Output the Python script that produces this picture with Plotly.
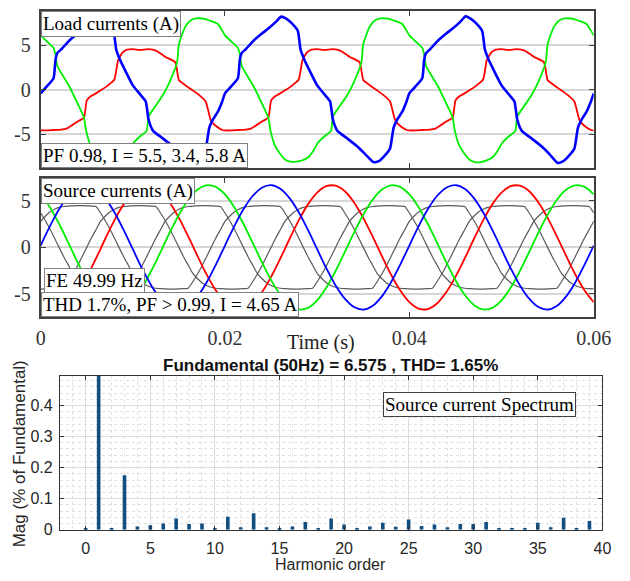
import plotly.graph_objects as go

# ---------------- Load currents (A) ----------------
BLUE_LOAD_T = [
    0.0000, 0.0006, 0.0014, 0.0016, 0.0018, 0.0023, 0.0030, 0.0040, 0.0048, 0.0056, 0.0061, 0.0066, 0.0072, 0.0079, 0.0082, 0.0086, 0.0093,
    0.0100, 0.0107, 0.0114, 0.0117, 0.0122, 0.0132, 0.0143, 0.0152, 0.0161, 0.0167, 0.0173, 0.0179, 0.0183, 0.0187, 0.0192, 0.0197,
    0.0200, 0.0206, 0.0214, 0.0216, 0.0218, 0.0223, 0.0230, 0.0240, 0.0248, 0.0256, 0.0261, 0.0266, 0.0272, 0.0279, 0.0282, 0.0286, 0.0293,
    0.0300, 0.0307, 0.0314, 0.0317, 0.0322, 0.0332, 0.0343, 0.0352, 0.0361, 0.0367, 0.0373, 0.0379, 0.0383, 0.0387, 0.0392, 0.0397,
    0.0400, 0.0406, 0.0414, 0.0416, 0.0418, 0.0423, 0.0430, 0.0440, 0.0448, 0.0456, 0.0461, 0.0466, 0.0472, 0.0479, 0.0482, 0.0486, 0.0493,
    0.0500, 0.0507, 0.0514, 0.0517, 0.0522, 0.0532, 0.0543, 0.0552, 0.0561, 0.0567, 0.0573, 0.0579, 0.0583, 0.0587, 0.0592, 0.0597,
    0.0600]
BLUE_LOAD_V = [
    -0.4, 0.3, 1.3, 3.3, 4.1, 4.6, 5.4, 6.3, 6.95, 7.7, 8.2, 8.0, 7.5, 6.6, 4.5, 3.4, 1.9,
    0.5, -0.4, -1.3, -3.3, -4.6, -5.4, -6.3, -7.2, -8.15, -8.0, -7.4, -6.6, -4.2, -3.3, -2.5, -1.3,
    -0.4, 0.3, 1.3, 3.3, 4.1, 4.6, 5.4, 6.3, 6.95, 7.7, 8.2, 8.0, 7.5, 6.6, 4.5, 3.4, 1.9,
    0.5, -0.4, -1.3, -3.3, -4.6, -5.4, -6.3, -7.2, -8.1, -8.0, -7.4, -6.6, -4.2, -3.3, -2.5, -1.3,
    -0.4, 0.3, 1.3, 3.3, 4.1, 4.6, 5.4, 6.3, 6.95, 7.7, 8.25, 8.0, 7.5, 6.6, 4.5, 3.4, 1.9,
    0.5, -0.4, -1.3, -3.3, -4.6, -5.4, -6.3, -7.2, -8.2, -8.0, -7.4, -6.6, -4.2, -3.3, -2.5, -1.3,
    -0.4]

GREEN_LOAD_T = [
    0.0000, 0.0007, 0.0014, 0.0016, 0.0018, 0.0024, 0.0031, 0.0039, 0.0047, 0.0049, 0.0054, 0.0060, 0.0065, 0.0071, 0.0077, 0.0084, 0.0091,
    0.0096, 0.0101, 0.0108, 0.0115, 0.0117, 0.0124, 0.0132, 0.0140, 0.0148, 0.0150, 0.0157, 0.0163, 0.0169, 0.0178, 0.0185, 0.0192, 0.0196,
    0.0200, 0.0207, 0.0214, 0.0216, 0.0218, 0.0224, 0.0231, 0.0239, 0.0247, 0.0249, 0.0254, 0.0260, 0.0265, 0.0271, 0.0277, 0.0284, 0.0291,
    0.0296, 0.0301, 0.0308, 0.0315, 0.0317, 0.0324, 0.0332, 0.0340, 0.0348, 0.0350, 0.0357, 0.0363, 0.0369, 0.0378, 0.0385, 0.0392, 0.0396,
    0.0400, 0.0407, 0.0414, 0.0416, 0.0418, 0.0424, 0.0431, 0.0439, 0.0447, 0.0449, 0.0454, 0.0460, 0.0465, 0.0471, 0.0477, 0.0484, 0.0491,
    0.0496, 0.0501, 0.0508, 0.0515, 0.0517, 0.0524, 0.0532, 0.0540, 0.0548, 0.0550, 0.0557, 0.0563, 0.0569, 0.0578, 0.0585, 0.0592, 0.0596,
    0.0600]
GREEN_LOAD_V = [
    6.1, 5.4, 4.7, 4.0, 2.7, 1.6, 0.4, -1.3, -3.1, -4.4, -6.2, -7.2, -7.8, -8.05, -8.05, -7.9, -7.5,
    -6.8, -5.9, -5.2, -4.6, -3.0, -1.9, -0.7, 0.9, 3.1, 5.1, 7.1, 7.8, 8.0, 7.95, 7.7, 7.4, 6.8,
    6.1, 5.4, 4.7, 4.0, 2.7, 1.6, 0.4, -1.3, -3.1, -4.4, -6.2, -7.2, -7.8, -8.05, -8.05, -7.9, -7.5,
    -6.8, -5.9, -5.2, -4.6, -3.0, -1.9, -0.7, 0.9, 3.1, 5.1, 7.1, 7.8, 8.0, 7.95, 7.7, 7.4, 6.8,
    6.1, 5.4, 4.7, 4.0, 2.7, 1.6, 0.4, -1.3, -3.1, -4.4, -6.2, -7.2, -7.8, -8.1, -8.1, -7.9, -7.5,
    -6.8, -5.9, -5.2, -4.6, -3.0, -1.9, -0.7, 0.9, 3.1, 5.1, 7.1, 7.8, 8.0, 7.95, 7.7, 7.4, 6.8,
    6.1]

RED_LOAD_T = [
    0.0000, 0.0007, 0.0014, 0.0022, 0.0028, 0.0035, 0.0041, 0.0047, 0.0050, 0.0054, 0.0060, 0.0066, 0.0073, 0.0080, 0.0084, 0.0089,
    0.0094, 0.0100, 0.0108, 0.0117, 0.0125, 0.0131, 0.0136, 0.0146, 0.0150, 0.0156, 0.0164, 0.0172, 0.0179, 0.0185, 0.0192, 0.0197,
    0.0200, 0.0207, 0.0214, 0.0222, 0.0228, 0.0235, 0.0241, 0.0247, 0.0250, 0.0254, 0.0260, 0.0266, 0.0273, 0.0280, 0.0284, 0.0289,
    0.0294, 0.0300, 0.0308, 0.0317, 0.0325, 0.0331, 0.0336, 0.0346, 0.0350, 0.0356, 0.0364, 0.0372, 0.0379, 0.0385, 0.0392, 0.0397,
    0.0400, 0.0407, 0.0414, 0.0422, 0.0428, 0.0435, 0.0441, 0.0447, 0.0450, 0.0454, 0.0460, 0.0466, 0.0473, 0.0480, 0.0484, 0.0489,
    0.0494, 0.0500, 0.0508, 0.0517, 0.0525, 0.0531, 0.0536, 0.0546, 0.0550, 0.0556, 0.0564, 0.0572, 0.0579, 0.0585, 0.0592, 0.0597,
    0.0600]
RED_LOAD_V = [
    -4.55, -4.55, -4.5, -4.45, -4.35, -3.9, -3.5, -3.1, -1.2, -0.75, -0.4, 0.0, 0.5, 1.15, 3.3, 4.2,
    4.5, 4.55, 4.45, 4.55, 4.4, 4.0, 3.65, 3.1, 1.1, 0.6, 0.0, -0.6, -1.3, -3.5, -4.2, -4.5,
    -4.55, -4.55, -4.5, -4.45, -4.35, -3.9, -3.5, -3.1, -1.2, -0.75, -0.4, 0.0, 0.5, 1.15, 3.3, 4.2,
    4.5, 4.55, 4.45, 4.55, 4.4, 4.0, 3.65, 3.1, 1.1, 0.6, 0.0, -0.6, -1.3, -3.5, -4.2, -4.5,
    -4.55, -4.55, -4.5, -4.45, -4.35, -3.9, -3.5, -3.1, -1.2, -0.75, -0.4, 0.0, 0.5, 1.15, 3.3, 4.2,
    4.5, 4.55, 4.45, 4.55, 4.4, 4.0, 3.65, 3.1, 1.1, 0.6, 0.0, -0.6, -1.3, -3.5, -4.2, -4.5,
    -4.55]

# ---------------- Source currents (A), sampled every 1 ms ----------------
SRC_T = [round(i * 0.001, 4) for i in range(61)]
BLUE_SRC = [
    0.20, 2.26, 4.10, 5.53, 6.43, 6.70, 6.31, 5.30, 3.78, 1.88, -0.20, -2.26, -4.10, -5.53, -6.43, -6.70, -6.31, -5.30, -3.78, -1.88,
    0.20, 2.26, 4.10, 5.53, 6.43, 6.70, 6.31, 5.30, 3.78, 1.88, -0.20, -2.26, -4.10, -5.53, -6.43, -6.70, -6.31, -5.30, -3.78, -1.88,
    0.20, 2.26, 4.10, 5.53, 6.43, 6.70, 6.31, 5.30, 3.78, 1.88, -0.20, -2.26, -4.10, -5.53, -6.43, -6.70, -6.31, -5.30, -3.78, -1.88,
    0.20]
RED_SRC = [
    -5.90, -6.59, -6.64, -6.04, -4.84, -3.18, -1.20, 0.90, 2.91, 4.63, 5.90, 6.59, 6.64, 6.04, 4.84, 3.18, 1.20, -0.90, -2.91, -4.63,
    -5.90, -6.59, -6.64, -6.04, -4.84, -3.18, -1.20, 0.90, 2.91, 4.63, 5.90, 6.59, 6.64, 6.04, 4.84, 3.18, 1.20, -0.90, -2.91, -4.63,
    -5.90, -6.59, -6.64, -6.04, -4.84, -3.18, -1.20, 0.90, 2.91, 4.63, 5.90, 6.59, 6.64, 6.04, 4.84, 3.18, 1.20, -0.90, -2.91, -4.63,
    -5.90]
GREEN_SRC = [
    5.70, 4.33, 2.54, 0.50, -1.59, -3.52, -5.11, -6.20, -6.68, -6.51, -5.70, -4.33, -2.54, -0.50, 1.59, 3.52, 5.11, 6.20, 6.68, 6.51,
    5.70, 4.33, 2.54, 0.50, -1.59, -3.52, -5.11, -6.20, -6.68, -6.51, -5.70, -4.33, -2.54, -0.50, 1.59, 3.52, 5.11, 6.20, 6.68, 6.51,
    5.70, 4.33, 2.54, 0.50, -1.59, -3.52, -5.11, -6.20, -6.68, -6.51, -5.70, -4.33, -2.54, -0.50, 1.59, 3.52, 5.11, 6.20, 6.68, 6.51,
    5.70]

# grey reference waveforms, sampled every 0.5 ms
GRAY_T = [round(i * 0.0005, 4) for i in range(121)]
GRAY_A = [
    2.8, 3.35, 3.8, 4.1, 4.3, 4.4, 4.45, 4.48, 4.5, 4.5, 4.48, 4.45, 4.4, 3.7, 2.9, 2.0, 1.0, 0.0, -1.0, -1.9,
    -2.8, -3.35, -3.8, -4.1, -4.3, -4.4, -4.45, -4.48, -4.5, -4.5, -4.48, -4.45, -4.4, -3.7, -2.9, -2.0, -1.0, 0.0, 1.0, 1.9,
    2.8, 3.35, 3.8, 4.1, 4.3, 4.4, 4.45, 4.48, 4.5, 4.5, 4.48, 4.45, 4.4, 3.7, 2.9, 2.0, 1.0, 0.0, -1.0, -1.9,
    -2.8, -3.35, -3.8, -4.1, -4.3, -4.4, -4.45, -4.48, -4.5, -4.5, -4.48, -4.45, -4.4, -3.7, -2.9, -2.0, -1.0, 0.0, 1.0, 1.9,
    2.8, 3.35, 3.8, 4.1, 4.3, 4.4, 4.45, 4.48, 4.5, 4.5, 4.48, 4.45, 4.4, 3.7, 2.9, 2.0, 1.0, 0.0, -1.0, -1.9,
    -2.8, -3.35, -3.8, -4.1, -4.3, -4.4, -4.45, -4.48, -4.5, -4.5, -4.48, -4.45, -4.4, -3.7, -2.9, -2.0, -1.0, 0.0, 1.0, 1.9,
    2.8]
GRAY_B = [
    -4.48, -4.5, -4.5, -4.48, -4.45, -4.4, -3.7, -2.9, -2.0, -1.0, 0.0, 1.0, 1.9, 2.8, 3.35, 3.8, 4.1, 4.3, 4.4, 4.45,
    4.48, 4.5, 4.5, 4.48, 4.45, 4.4, 3.7, 2.9, 2.0, 1.0, 0.0, -1.0, -1.9, -2.8, -3.35, -3.8, -4.1, -4.3, -4.4, -4.45,
    -4.48, -4.5, -4.5, -4.48, -4.45, -4.4, -3.7, -2.9, -2.0, -1.0, 0.0, 1.0, 1.9, 2.8, 3.35, 3.8, 4.1, 4.3, 4.4, 4.45,
    4.48, 4.5, 4.5, 4.48, 4.45, 4.4, 3.7, 2.9, 2.0, 1.0, 0.0, -1.0, -1.9, -2.8, -3.35, -3.8, -4.1, -4.3, -4.4, -4.45,
    -4.48, -4.5, -4.5, -4.48, -4.45, -4.4, -3.7, -2.9, -2.0, -1.0, 0.0, 1.0, 1.9, 2.8, 3.35, 3.8, 4.1, 4.3, 4.4, 4.45,
    4.48, 4.5, 4.5, 4.48, 4.45, 4.4, 3.7, 2.9, 2.0, 1.0, 0.0, -1.0, -1.9, -2.8, -3.35, -3.8, -4.1, -4.3, -4.4, -4.45,
    -4.48]
GRAY_C = [
    3.7, 2.9, 2.0, 1.0, 0.0, -1.0, -1.9, -2.8, -3.35, -3.8, -4.1, -4.3, -4.4, -4.45, -4.48, -4.5, -4.5, -4.48, -4.45, -4.4,
    -3.7, -2.9, -2.0, -1.0, 0.0, 1.0, 1.9, 2.8, 3.35, 3.8, 4.1, 4.3, 4.4, 4.45, 4.48, 4.5, 4.5, 4.48, 4.45, 4.4,
    3.7, 2.9, 2.0, 1.0, 0.0, -1.0, -1.9, -2.8, -3.35, -3.8, -4.1, -4.3, -4.4, -4.45, -4.48, -4.5, -4.5, -4.48, -4.45, -4.4,
    -3.7, -2.9, -2.0, -1.0, 0.0, 1.0, 1.9, 2.8, 3.35, 3.8, 4.1, 4.3, 4.4, 4.45, 4.48, 4.5, 4.5, 4.48, 4.45, 4.4,
    3.7, 2.9, 2.0, 1.0, 0.0, -1.0, -1.9, -2.8, -3.35, -3.8, -4.1, -4.3, -4.4, -4.45, -4.48, -4.5, -4.5, -4.48, -4.45, -4.4,
    -3.7, -2.9, -2.0, -1.0, 0.0, 1.0, 1.9, 2.8, 3.35, 3.8, 4.1, 4.3, 4.4, 4.45, 4.48, 4.5, 4.5, 4.48, 4.45, 4.4,
    3.7]

# ---------------- Spectrum ----------------
HARMONICS = list(range(0, 40))
MAG = [0.005, 100.0, 0.005, 0.175, 0.010, 0.014, 0.020, 0.036, 0.018, 0.020,
       0.003, 0.042, 0.008, 0.053, 0.008, 0.004, 0.010, 0.025, 0.004, 0.036,
       0.017, 0.004, 0.010, 0.022, 0.009, 0.033, 0.012, 0.017, 0.008, 0.018,
       0.018, 0.025, 0.003, 0.002, 0.002, 0.022, 0.008, 0.038, 0.005, 0.028]

W, H = 630, 581
SERIF = "Liberation Serif"
SANS = "Liberation Sans"


def px(x):
    return x / W


def py(y):
    return 1 - y / H


fig = go.Figure()

# top panel
for t, v, c, w in [(RED_LOAD_T, RED_LOAD_V, "#ff0000", 1.8),
                   (GREEN_LOAD_T, GREEN_LOAD_V, "#00ee00", 1.8),
                   (BLUE_LOAD_T, BLUE_LOAD_V, "#0000ff", 2.6)]:
    fig.add_trace(go.Scatter(x=t, y=v, mode="lines", line=dict(color=c, width=w, shape="spline", smoothing=0.5),
                             xaxis="x", yaxis="y", showlegend=False, hoverinfo="skip"))

# middle panel
for v in [GRAY_A, GRAY_B, GRAY_C]:
    fig.add_trace(go.Scatter(x=GRAY_T, y=v, mode="lines", line=dict(color="#5a5a5a", width=1.2, shape="spline", smoothing=0.6),
                             xaxis="x2", yaxis="y2", showlegend=False, hoverinfo="skip"))
for v, c in [(RED_SRC, "#ff0000"), (GREEN_SRC, "#00ee00"), (BLUE_SRC, "#0000ff")]:
    fig.add_trace(go.Scatter(x=SRC_T, y=v, mode="lines", line=dict(color=c, width=1.8, shape="spline"),
                             xaxis="x2", yaxis="y2", showlegend=False, hoverinfo="skip"))

# bottom panel
fig.add_trace(go.Bar(x=HARMONICS, y=MAG, width=0.28, marker=dict(color="#124f80", line=dict(width=0)),
                     xaxis="x3", yaxis="y3", showlegend=False, hoverinfo="skip"))

frame = dict(showline=True, linecolor="#404040", linewidth=2, mirror="ticks", ticks="inside",
             ticklen=5, tickcolor="#404040", zeroline=False)
serif_tick = dict(family=SERIF, size=20, color="#333333")
sans_tick = dict(family=SANS, size=16, color="#262626")

fig.update_layout(
    width=W, height=H, margin=dict(l=0, r=0, t=0, b=0), autosize=False,
    paper_bgcolor="white", plot_bgcolor="white",
    xaxis=dict(domain=[px(37), px(611)], range=[0, 0.06], anchor="y", showticklabels=False,
               tickvals=[0.02, 0.04], showgrid=False, **frame),
    yaxis=dict(domain=[py(171), py(11)], range=[-8.8, 8.85], anchor="x", tickvals=[-5, 0, 5],
               ticktext=["-5", "0", "5"], showgrid=True, gridcolor="#d6d6d6", gridwidth=2,
               tickfont=serif_tick, ticklabelstandoff=4, **frame),
    xaxis2=dict(domain=[px(37), px(611)], range=[0, 0.06], anchor="y2",
                tickvals=[0, 0.02, 0.04, 0.06], ticktext=["0", "0.02", "0.04", "0.06"],
                showgrid=False, tickfont=serif_tick, ticklabelstandoff=2, **frame),
    yaxis2=dict(domain=[py(322), py(181)], range=[-7.5, 7.45], anchor="x2", tickvals=[-5, 0, 5],
                ticktext=["-5", "0", "5"], showgrid=True, gridcolor="#d6d6d6", gridwidth=2,
                tickfont=serif_tick, ticklabelstandoff=4, **frame),
    xaxis3=dict(domain=[px(57), px(620)], range=[-2, 40], anchor="y3",
                tickvals=list(range(0, 41, 5)), showline=True, linecolor="#333333", linewidth=1,
                mirror="ticks", ticks="inside", ticklen=4, tickcolor="#333333", zeroline=False,
                showgrid=True, gridcolor="#dcdcdc", gridwidth=1,
                minor=dict(dtick=1, showgrid=True, gridcolor="#e0e0e0", griddash="dot", ticks=""),
                tickfont=sans_tick, ticklabelstandoff=4),
    yaxis3=dict(domain=[py(538), py(382)], range=[0, 0.495], anchor="x3",
                tickvals=[0, 0.1, 0.2, 0.3, 0.4], ticktext=["0", "0.1", "0.2", "0.3", "0.4"],
                showline=True, linecolor="#333333", linewidth=1,
                mirror="ticks", ticks="inside", ticklen=4, tickcolor="#333333", zeroline=False,
                showgrid=True, gridcolor="#dcdcdc", gridwidth=1,
                minor=dict(dtick=0.02, showgrid=True, gridcolor="#e0e0e0", griddash="dot", ticks=""),
                tickfont=sans_tick, ticklabelstandoff=3),
)

box = dict(xref="paper", yref="paper", showarrow=False, bgcolor="white", bordercolor="#7f7f7f",
           borderwidth=1, borderpad=1, font=dict(family=SERIF, size=19, color="black"))
plain = dict(xref="paper", yref="paper", showarrow=False, borderpad=0)
annotations = [
    dict(text="Load currents (A)", x=px(37), y=py(11), xanchor="left", yanchor="top", **box),
    dict(text="PF 0.98, I = 5.5, 3.4, 5.8 A", x=px(37), y=py(171), xanchor="left", yanchor="bottom", **box),
    dict(text="Source currents (A)", x=px(37), y=py(181), xanchor="left", yanchor="top", **box),
    dict(text="FE 49.99 Hz", x=px(40), y=py(298), xanchor="left", yanchor="bottom", **box),
    dict(text="THD 1.7%, PF > 0.99, I = 4.65 A", x=px(37), y=py(322), xanchor="left", yanchor="bottom", **box),
    dict(text="Source current Spectrum", x=px(392), y=py(398), xanchor="left", yanchor="top",
         **{**box, "bordercolor": "#404040"}),
    dict(text="Time (s)", x=px(328), y=py(348), xanchor="center", yanchor="middle",
         font=dict(family=SERIF, size=20, color="#222222"), **plain),
    dict(text="<b>Fundamental (50Hz) = 6.575 , THD= 1.65%</b>", x=px(338), y=py(371),
         xanchor="center", yanchor="middle", font=dict(family=SANS, size=17, color="#111111"), **plain),
    dict(text="Harmonic order", x=px(338), y=py(573), xanchor="center", yanchor="middle",
         font=dict(family=SANS, size=16, color="#262626"), **plain),
    dict(text="Mag (% of Fundamental)", x=px(15), y=py(461), xanchor="center", yanchor="middle", textangle=-90,
         font=dict(family=SANS, size=17, color="#262626"), **plain),
]
fig.update_layout(annotations=annotations)

fig.write_html("out.html", config={"responsive": False})
